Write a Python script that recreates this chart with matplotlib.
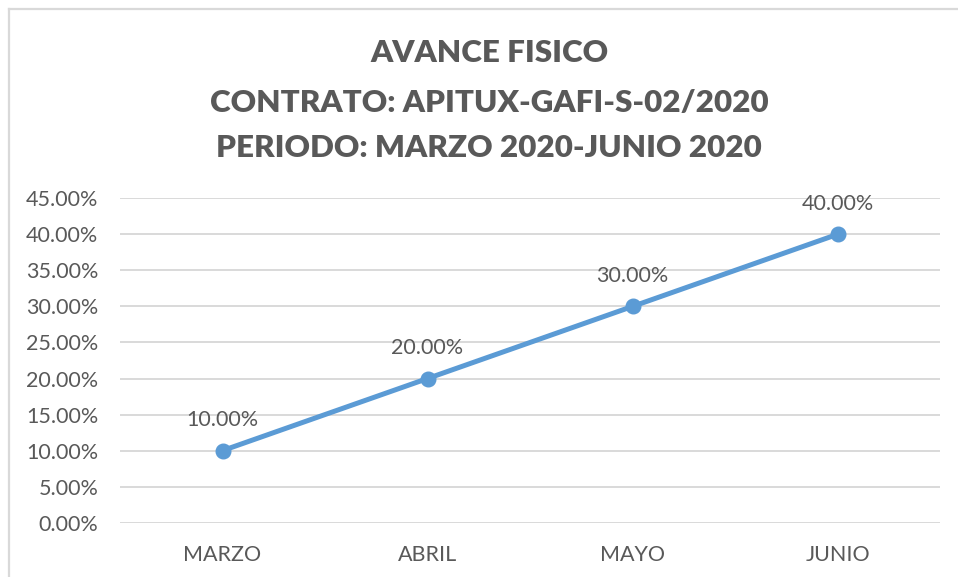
import matplotlib
matplotlib.use("Agg")
import matplotlib.pyplot as plt
from matplotlib.lines import Line2D

categories = ["MARZO", "ABRIL", "MAYO", "JUNIO"]
values = [0.10, 0.20, 0.30, 0.40]
y_ticks = [0.00, 0.05, 0.10, 0.15, 0.20, 0.25, 0.30, 0.35, 0.40, 0.45]
title_lines = ["AVANCE FISICO", "CONTRATO: APITUX-GAFI-S-02/2020", "PERIODO: MARZO 2020-JUNIO 2020"]

plt.rcParams['font.family'] = ['Lato', 'DejaVu Sans']
W, H = 958, 577
fig = plt.figure(figsize=(W / 100, H / 100), dpi=100)
fig.patch.set_facecolor("white")

text_color = "#595959"
grid_color = "#D9D9D9"
line_color = "#5B9BD5"

ax = fig.add_axes([120 / W, (H - 522.7) / H, 820 / W, (522.7 - 198.3) / H])
x = list(range(len(categories)))
ax.plot(x, values, color=line_color, linewidth=3.6, marker="o", markersize=10.5,
        solid_capstyle="round", zorder=3)
for xi, v in zip(x, values):
    ax.annotate(f"{v * 100:.2f}%", (xi, v), xytext=(0, 22), textcoords="offset points",
                ha="center", va="center", fontsize=15.5, color=text_color)

ax.set_xlim(-0.5, len(categories) - 0.5)
ax.set_ylim(0, 0.45)
ax.set_yticks(y_ticks)
ax.set_yticklabels([f"{t * 100:.2f}%" for t in y_ticks])
ax.set_xticks(x)
ax.set_xticklabels(categories)
ax.tick_params(axis="both", length=0, labelsize=15.5, labelcolor=text_color)
ax.tick_params(axis="y", pad=15.5)
ax.tick_params(axis="x", pad=16)
ax.grid(axis="y", color=grid_color, linewidth=1.4)
ax.set_axisbelow(True)
for s in ax.spines.values():
    s.set_visible(False)

ys = [53, 103, 148]
for t, yy in zip(title_lines, ys):
    fig.text(0.5 + 10 / W, 1 - yy / H, t, ha="center", va="center", fontsize=22.6,
             fontweight="heavy", color=text_color)

# chart border (left and top visible)
fig.add_artist(Line2D([9 / W, 9 / W], [0, 1 - 9 / H], color=grid_color, linewidth=1.6,
                      transform=fig.transFigure))
fig.add_artist(Line2D([9 / W, 1], [1 - 9 / H, 1 - 9 / H], color=grid_color, linewidth=1.6,
                      transform=fig.transFigure))

fig.savefig("out.png", dpi=100, facecolor="white")
